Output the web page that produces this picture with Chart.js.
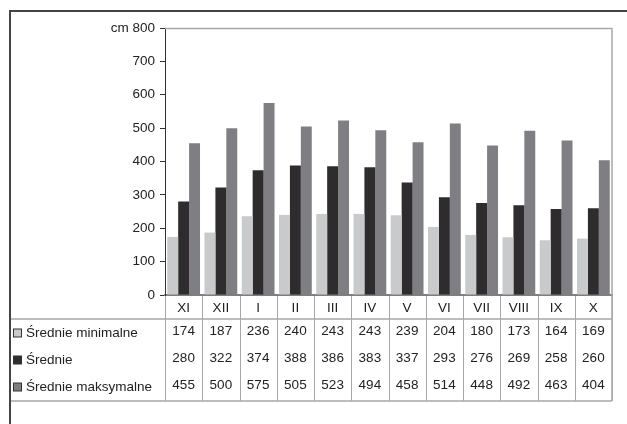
<!DOCTYPE html>
<html>
<head>
<meta charset="utf-8">
<script src="https://cdn.jsdelivr.net/npm/chart.js@4/dist/chart.umd.min.js"></script>
<style>
  html, body { margin: 0; padding: 0; background: #fff; }
  canvas { display: block; }
</style>
</head>
<body>
<canvas id="chart" width="627" height="424"></canvas>
<script>
// Months of the hydrological year
const months = ['XI', 'XII', 'I', 'II', 'III', 'IV', 'V', 'VI', 'VII', 'VIII', 'IX', 'X'];

// Water levels, cm
const minValues  = [174, 187, 236, 240, 243, 243, 239, 204, 180, 173, 164, 169];
const meanValues = [280, 322, 374, 388, 386, 383, 337, 293, 276, 269, 258, 260];
const maxValues  = [455, 500, 575, 505, 523, 494, 458, 514, 448, 492, 463, 404];

const seriesNames = ['Średnie minimalne', 'Średnie', 'Średnie maksymalne'];
const yTicks = [0, 100, 200, 300, 400, 500, 600, 700, 800];

const colors = ['#c9cacc', '#2e2c2d', '#7f7f83'];
const FONT = '"Liberation Sans", Arial, sans-serif';
const FONT_SIZE = 13.5;
const TEXT = '#222222';
const LINE = '#a8a8a8';

const seriesValues = [minValues, meanValues, maxValues];

// Frame, plot border and the data table under the x axis
const tablePlugin = {
  id: 'dataTable',
  beforeDraw(chart) {
    const ctx = chart.ctx;
    ctx.save();
    ctx.fillStyle = '#ffffff';
    ctx.fillRect(0, 0, chart.width, chart.height);
    ctx.restore();
  },
  afterDraw(chart) {
    const ctx = chart.ctx;
    const area = chart.chartArea;
    const x = chart.scales.x;
    const n = months.length;
    const step = (area.right - area.left) / n;
    const rowTop = area.bottom + 24;      // line under the month labels
    const tableBottom = rowTop + 82;
    const rowY = [rowTop + 12.5, rowTop + 39.5, rowTop + 66.5];

    ctx.save();
    // plot area top/right border
    ctx.strokeStyle = LINE;
    ctx.lineWidth = 1.5;
    ctx.beginPath();
    ctx.moveTo(area.left, area.top + 0.5);
    ctx.lineTo(area.right, area.top + 0.5);
    ctx.lineTo(area.right, tableBottom);
    ctx.stroke();

    // table grid
    ctx.lineWidth = 1;
    ctx.beginPath();
    for (let i = 0; i <= n; i++) {
      const xx = Math.round(area.left + i * step) + 0.5;
      ctx.moveTo(xx, area.bottom + 1);
      ctx.lineTo(xx, tableBottom);
    }
    ctx.stroke();
    ctx.lineWidth = 1.5;
    ctx.beginPath();
    ctx.moveTo(10, rowTop);
    ctx.lineTo(area.right, rowTop);
    ctx.moveTo(10, tableBottom);
    ctx.lineTo(area.right, tableBottom);
    ctx.stroke();

    // table values
    ctx.font = FONT_SIZE + 'px ' + FONT;
    ctx.fillStyle = TEXT;
    ctx.textAlign = 'center';
    ctx.textBaseline = 'middle';
    seriesValues.forEach((vals, r) => {
      vals.forEach((v, i) => {
        ctx.fillText(String(v), x.getPixelForValue(i), rowY[r]);
      });
    });

    // legend keys with series names
    ctx.textAlign = 'left';
    seriesNames.forEach((name, r) => {
      const cy = rowY[r] + 1.5;
      ctx.fillStyle = colors[r];
      ctx.fillRect(13.5, cy - 4, 8, 8);
      ctx.strokeStyle = '#333';
      ctx.lineWidth = 1;
      ctx.strokeRect(13.5, cy - 4, 8, 8);
      ctx.fillStyle = TEXT;
      ctx.fillText(name, 26, cy);
    });

    // outer frame
    ctx.strokeStyle = '#444444';
    ctx.lineWidth = 2;
    ctx.beginPath();
    ctx.moveTo(10, chart.height);
    ctx.lineTo(10, 11);
    ctx.lineTo(chart.width, 11);
    ctx.stroke();
    ctx.restore();
  }
};

new Chart(document.getElementById('chart'), {
  type: 'bar',
  data: {
    labels: months,
    datasets: seriesValues.map((vals, i) => ({
      label: seriesNames[i],
      data: vals,
      backgroundColor: colors[i],
      borderWidth: 0,
      barPercentage: 1,
      categoryPercentage: 0.88
    }))
  },
  options: {
    responsive: false,
    devicePixelRatio: 1,
    animation: false,
    layout: { padding: { left: 0, top: 28, right: 15, bottom: 105 } },
    plugins: {
      legend: { display: false },
      tooltip: { enabled: false }
    },
    scales: {
      x: {
        grid: { display: false, drawTicks: false },
        border: { display: true, color: '#7f7f7f', width: 2 },
        ticks: { color: TEXT, font: { family: FONT, size: FONT_SIZE }, padding: 5, maxRotation: 0 },
        afterFit(scale) { scale.height = 24; }
      },
      y: {
        min: 0,
        max: 800,
        afterBuildTicks(scale) { scale.ticks = yTicks.map(v => ({ value: v })); },
        grid: { display: true, drawOnChartArea: false, drawTicks: true, tickLength: 5, color: '#333333' },
        border: { display: true, color: '#333333', width: 1 },
        ticks: {
          color: TEXT,
          font: { family: FONT, size: FONT_SIZE },
          padding: 5,
          callback: v => (v === 800 ? 'cm 800' : String(v))
        },
        afterFit(scale) { scale.width = 165; }
      }
    }
  },
  plugins: [tablePlugin]
});
</script>
</body>
</html>
